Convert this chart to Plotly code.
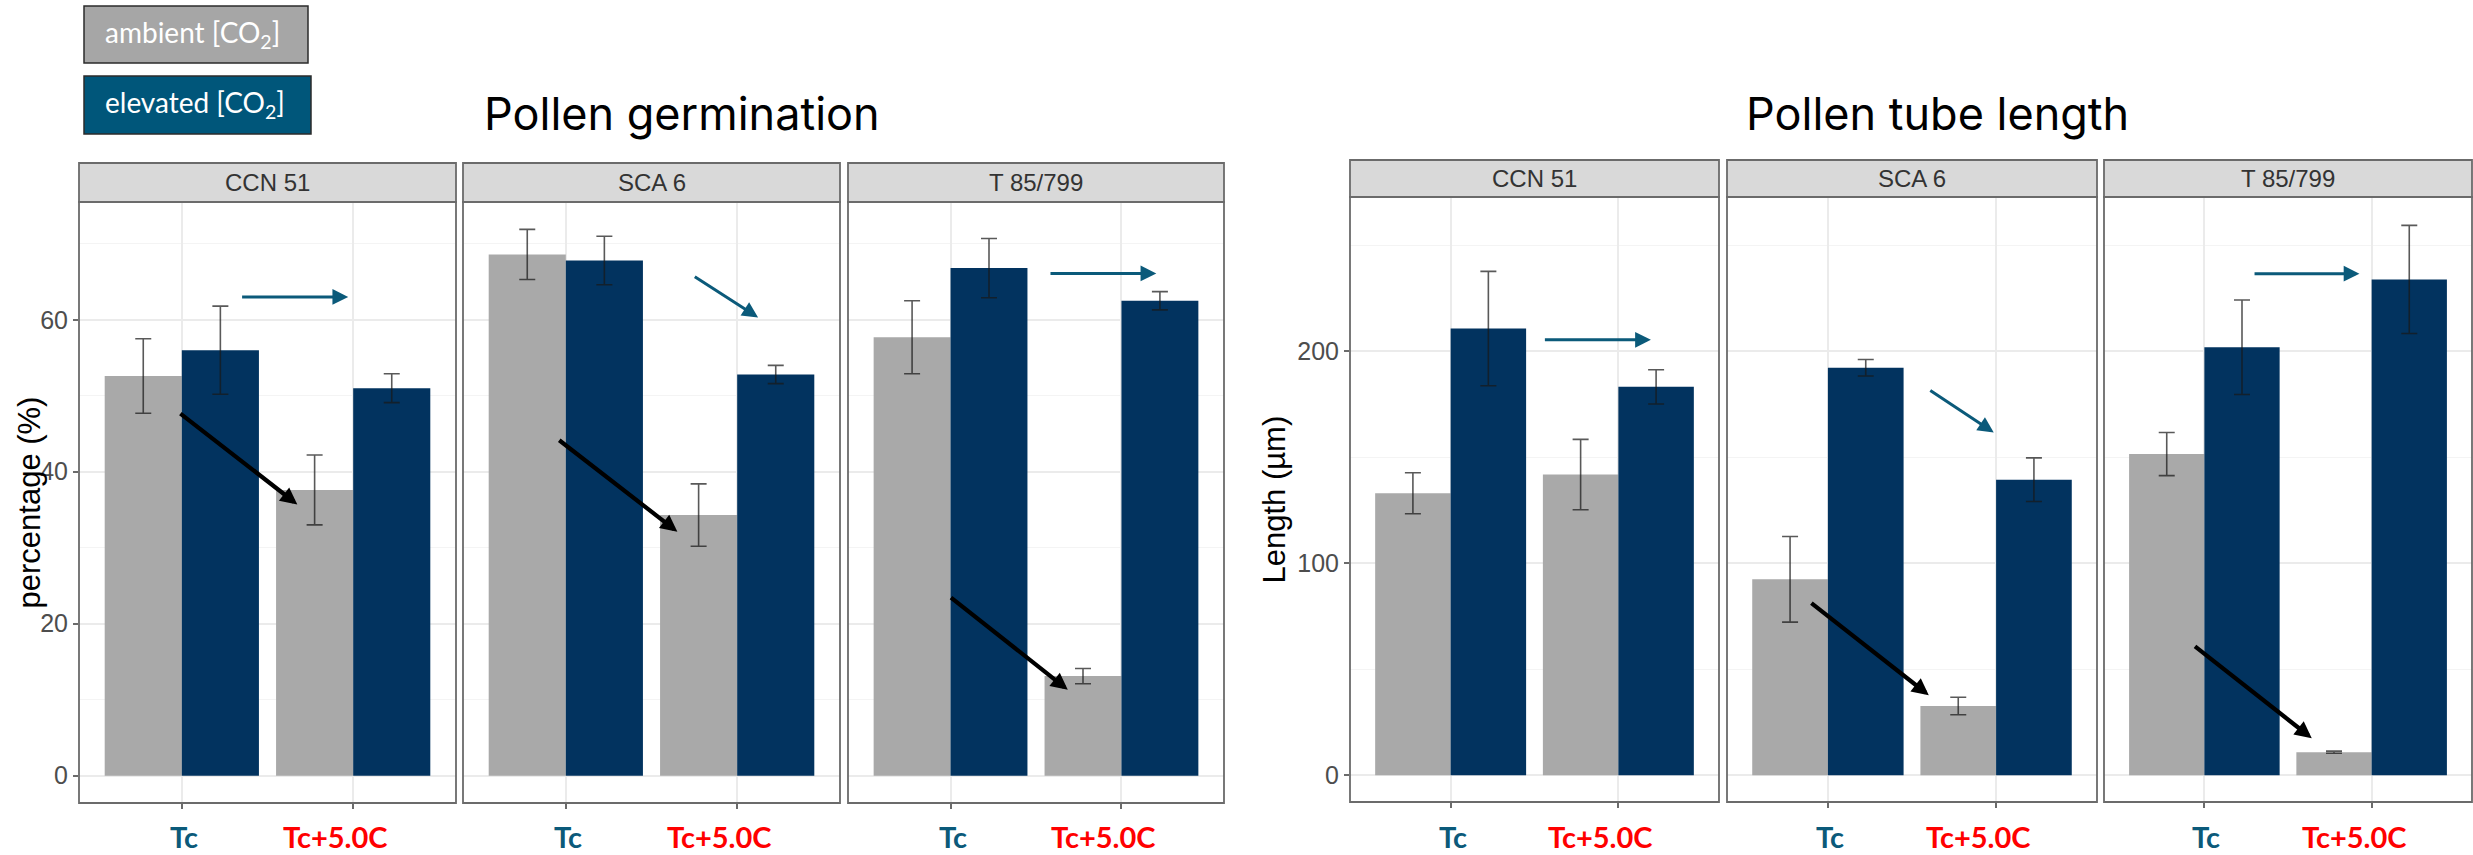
import plotly.graph_objects as go

# ---- data -------------------------------------------------------------
cultivars = ["CCN 51", "SCA 6", "T 85/799"]
temps = ["Tc", "Tc+5.0C"]

# Pollen germination (%) per cultivar: [Tc, Tc+5.0C]
germ_amb_mean = [[52.6, 37.6], [68.6, 34.3], [57.7, 13.1]]
germ_amb_err = [[4.9, 4.6], [3.3, 4.1], [4.8, 1.0]]
germ_elev_mean = [[56.0, 51.0], [67.8, 52.8], [66.8, 62.5]]
germ_elev_err = [[5.8, 1.9], [3.2, 1.2], [3.9, 1.2]]

# Pollen tube length (µm) per cultivar: [Tc, Tc+5.0C]
tube_amb_mean = [[133.1, 141.9], [92.5, 32.7], [151.6, 10.9]]
tube_amb_err = [[9.7, 16.6], [20.2, 4.1], [10.2, 0.5]]
tube_elev_mean = [[210.8, 183.3], [192.3, 139.5], [202.0, 234.0]]
tube_elev_err = [[27.0, 8.1], [3.9, 10.3], [22.3, 25.5]]

germ_ticks = [0, 20, 40, 60]
tube_ticks = [0, 100, 200]

# trend arrows (panel, x_tail, y_tail, x_head, y_head, kind)
germ_arrows = [
    (0, 0.343, 63.0, 0.971, 63.0, "elev"),
    (0, -0.017, 47.8, 0.674, 35.7, "amb"),
    (1, 0.744, 65.8, 1.122, 60.3, "elev"),
    (1, -0.047, 44.3, 0.651, 32.1, "amb"),
    (2, 0.576, 66.1, 1.204, 66.1, "elev"),
    (2, -0.006, 23.6, 0.686, 11.3, "amb"),
]
tube_arrows = [
    (0, 0.553, 205.5, 1.194, 205.5, "elev"),
    (1, 0.600, 182.1, 0.986, 161.8, "elev"),
    (1, -0.107, 81.8, 0.600, 37.8, "amb"),
    (2, 0.291, 236.7, 0.927, 236.7, "elev"),
    (2, -0.065, 61.4, 0.642, 17.5, "amb"),
]

# ---- styling ----------------------------------------------------------
W, H = 2473, 855
AMB_COL = "#A9A9A9"
ELEV_COL = "#02335F"
TEAL = "#0B5A7A"
RED = "#FF0000"
BORDER = "#6B6B6B"
GRID = "#EBEBEB"
GRID_MINOR = "#F4F4F4"
SANS = "Liberation Sans, Arial, sans-serif"
GEO = "Lato, sans-serif"
TITLE_FONT = "Inter, Lato, sans-serif"


def fx(px):
    return px / W


def fy(py):
    return 1 - py / H


charts = [
    dict(
        panels=[(79, 456), (463, 840), (848, 1224)], top=202, bottom=803,
        strip_top=163, yrange=[-3.6, 75.5], ticks=germ_ticks, minor=10,
        amb=germ_amb_mean, amb_err=germ_amb_err,
        elev=germ_elev_mean, elev_err=germ_elev_err,
        arrows=germ_arrows, ytitle="percentage (%)", ytitle_x=29,
        title="Pollen germination", title_x=682,
    ),
    dict(
        panels=[(1350, 1719), (1727, 2097), (2104, 2472)], top=197, bottom=802,
        strip_top=160, yrange=[-12.6, 272.9], ticks=tube_ticks, minor=50,
        amb=tube_amb_mean, amb_err=tube_amb_err,
        elev=tube_elev_mean, elev_err=tube_elev_err,
        arrows=tube_arrows, ytitle="Length (µm)", ytitle_x=1274,
        title="Pollen tube length", title_x=1937,
    ),
]

fig = go.Figure()
layout = dict(
    width=W, height=H,
    margin=dict(l=0, r=0, t=0, b=0),
    paper_bgcolor="white", plot_bgcolor="white",
    barmode="group", bargap=0.1, bargroupgap=0.0,
    showlegend=False,
)
shapes = []
annotations = []

n = 0
for c in charts:
    first_y = None
    for p, (x0, x1) in enumerate(c["panels"]):
        n += 1
        sfx = "" if n == 1 else str(n)
        xa, ya = "x" + sfx, "y" + sfx
        if p == 0:
            first_y = ya

        for name, means, errs, col in (
            ("ambient", c["amb"], c["amb_err"], AMB_COL),
            ("elevated", c["elev"], c["elev_err"], ELEV_COL),
        ):
            fig.add_trace(go.Bar(
                x=temps, y=means[p], name=name, xaxis=xa, yaxis=ya,
                marker=dict(color=col, line=dict(width=0)),
                error_y=dict(type="data", array=errs[p], visible=True,
                             color="rgba(25,25,25,0.72)", thickness=1.6, width=8),
                offsetgroup=name,
            ))

        layout["xaxis" + sfx] = dict(
            domain=[fx(x0), fx(x1)], anchor=ya, type="category",
            categoryorder="array", categoryarray=temps,
            range=[-0.6, 1.6], showgrid=True, gridcolor=GRID, gridwidth=1.5,
            showticklabels=False, ticks="outside", ticklen=5,
            tickcolor=BORDER, tickwidth=1.5, zeroline=False, showline=False,
            fixedrange=True,
        )
        yax = dict(
            domain=[fy(c["bottom"]), fy(c["top"])], anchor=xa,
            range=c["yrange"], tickvals=c["ticks"],
            showgrid=True, gridcolor=GRID, gridwidth=1.5,
            minor=dict(dtick=c["minor"], tick0=0, showgrid=True,
                       gridcolor=GRID_MINOR, gridwidth=1.2),
            zeroline=False, showline=False,
        )
        if p == 0:
            yax.update(ticks="outside", ticklen=5, tickcolor=BORDER,
                       tickwidth=1.5,
                       tickfont=dict(family=SANS, size=25, color="#4D4D4D"))
        else:
            yax.update(matches=first_y, showticklabels=False, ticks="")
        layout["yaxis" + sfx] = yax

        # panel border and strip
        shapes.append(dict(type="rect", xref="paper", yref="paper",
                           x0=fx(x0), x1=fx(x1), y0=fy(c["bottom"]), y1=fy(c["top"]),
                           line=dict(color=BORDER, width=1.8), fillcolor="rgba(0,0,0,0)",
                           layer="above"))
        shapes.append(dict(type="rect", xref="paper", yref="paper",
                           x0=fx(x0), x1=fx(x1), y0=fy(c["top"]), y1=fy(c["strip_top"]),
                           line=dict(color=BORDER, width=1.8), fillcolor="#D9D9D9"))
        annotations.append(dict(
            text=cultivars[p], xref="paper", yref="paper",
            x=fx((x0 + x1) / 2), y=fy((c["top"] + c["strip_top"]) / 2),
            xanchor="center", yanchor="middle", showarrow=False,
            font=dict(family=SANS, size=24, color="#333333"),
        ))

        # category labels under the panel
        for i, (lab, col) in enumerate(zip(temps, [TEAL, RED])):
            annotations.append(dict(
                text="<b>%s</b>" % lab, xref=xa, yref="paper",
                x=i, y=fy(836), xshift=-18 * i + 2 * (1 - i),
                xanchor="center", yanchor="middle", showarrow=False,
                font=dict(family=GEO, size=29, color=col),
            ))

    # trend arrows
    for (p, xt, yt, xh, yh, kind) in c["arrows"]:
        k = n - 2 + p
        sfx = "" if k == 1 else str(k)
        black = kind == "amb"
        annotations.append(dict(
            x=xh, y=yh, ax=xt, ay=yt,
            xref="x" + sfx, yref="y" + sfx, axref="x" + sfx, ayref="y" + sfx,
            text="", showarrow=True, arrowhead=2,
            arrowwidth=4.2 if black else 3,
            arrowsize=0.8 if black else 1.05,
            arrowcolor="#000000" if black else TEAL, standoff=0,
        ))

    # axis title and chart title
    annotations.append(dict(
        text=c["ytitle"], xref="paper", yref="paper",
        x=fx(c["ytitle_x"]), y=fy((c["top"] + c["bottom"]) / 2),
        xanchor="center", yanchor="middle", textangle=-90, showarrow=False,
        font=dict(family=SANS, size=31, color="#000000"),
    ))
    annotations.append(dict(
        text=c["title"], xref="paper", yref="paper",
        x=fx(c["title_x"]), y=fy(114), xanchor="center", yanchor="middle",
        showarrow=False, font=dict(family=TITLE_FONT, size=45, color="#000000"),
    ))

# legend boxes
for label, col, (bx0, by0, bx1, by1) in (
    ("ambient [CO<sub>2</sub>]", "#A6A6A6", (84, 6, 308, 63)),
    ("elevated [CO<sub>2</sub>]", "#00567A", (84, 76, 311, 134)),
):
    shapes.append(dict(type="rect", xref="paper", yref="paper",
                       x0=fx(bx0), x1=fx(bx1), y0=fy(by1), y1=fy(by0),
                       line=dict(color="#2B2B2B", width=1.5), fillcolor=col))
    annotations.append(dict(
        text=label, xref="paper", yref="paper",
        x=fx(bx0 + 19), y=fy((by0 + by1) / 2 - 1), xanchor="left", yanchor="middle",
        showarrow=False, font=dict(family=GEO, size=28, color="white"),
    ))

layout["shapes"] = shapes
layout["annotations"] = annotations
fig.update_layout(**layout)
fig.write_html("out.html")
